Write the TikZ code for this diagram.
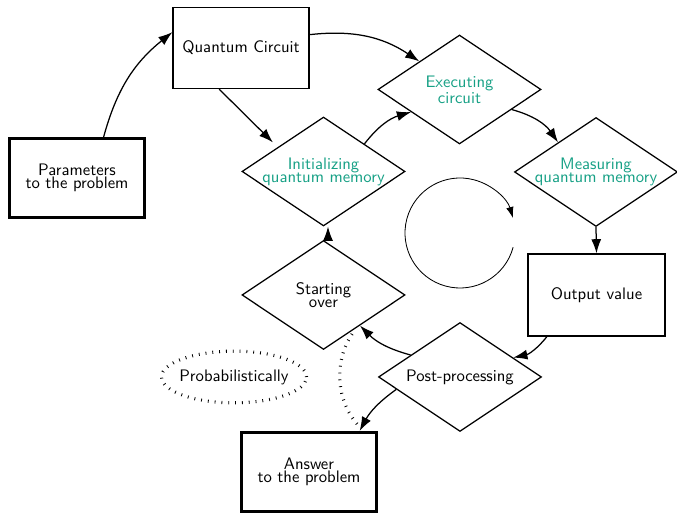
\documentclass[tikz,border=0pt]{standalone}
\usetikzlibrary{shapes.geometric,arrows.meta,calc}
\definecolor{qgreen}{RGB}{22,160,133}
\begin{document}
\begin{tikzpicture}[x=0.6pt,y=0.6pt,
  font=\sffamily\fontsize{10}{7.8}\selectfont,
  box/.style={draw,line width=0.75pt,rectangle,minimum width=81.6pt,minimum height=48.6pt,inner sep=0pt,align=center},
  thickbox/.style={box,line width=1.8pt,minimum width=81pt,minimum height=47.4pt},
  dia/.style={draw,line width=0.75pt,diamond,minimum width=97.8pt,minimum height=65.4pt,inner sep=0pt},
  gtext/.style={align=center,text=qgreen,inner sep=0pt},
  btext/.style={align=center,text=black,inner sep=0pt},
  edge/.style={line width=0.75pt,-{Latex[length=8.5pt,width=6pt]}},
  dotline/.style={line width=1.9pt,dash pattern=on 0.5pt off 3.6pt}]
\useasboundingbox (0,0) rectangle (677,514);
\node[thickbox] (params) at (77,336) {Parameters\\to the problem};
\node[box] (qc) at (241,466) {Quantum Circuit};
\node[dia,label={[gtext]center:Executing\\circuit}] (exec) at (459.5,424.5) {};
\node[dia,label={[gtext]center:Initializing\\quantum memory}] (init) at (323.5,342.5) {};
\node[dia,label={[gtext]center:Measuring\\quantum memory}] (meas) at (596,342) {};
\node[dia,label={[btext]center:Starting\\over}] (start) at (323.5,219) {};
\node[box,minimum width=82.2pt,minimum height=49.2pt] (output) at (596.5,219) {Output value};
\node[dia,label={[btext]center:Post-processing}] (post) at (460,137) {};
\node[draw,ellipse,dotline,minimum width=87pt,minimum height=31pt,inner sep=0pt,label={[btext]center:Probabilistically}] (prob) at (234,137) {};
\node[thickbox] (answer) at (309,42) {Answer\\to the problem};
\coordinate (cyc) at (460,281);
\draw[line width=0.5pt,-{Latex[length=6.5pt,width=4.5pt]}] ([shift={(-15:55)}]cyc) arc[start angle=-15,end angle=-344,radius=55];
\draw[edge] (params.57) to[bend left=18] (qc.167);
\draw[edge,shorten >=4pt] (qc.242) -- (init.152);
\draw[edge] (qc.11) to[bend left=20] (exec.145);
\draw[edge] (init.34) to[bend left=18] (exec.205);
\draw[edge] (exec.-21) to[bend left=20] (meas.142);
\draw[edge] (meas.south) -- (output.north);
\draw[edge] (output.220) to[bend left=20] (post.20);
\draw[edge] (post.156) to[bend left=15] (start.-40);
\draw[edge] (post.191) to[bend right=13] (answer.39);
\draw[edge] ([xshift=2.7pt]start.north) -- ([xshift=2.7pt]init.south);
\draw[dotline,shorten <=4pt,shorten >=5pt] (start.-46) to[bend right=38] (answer.37);
\end{tikzpicture}
\end{document}
